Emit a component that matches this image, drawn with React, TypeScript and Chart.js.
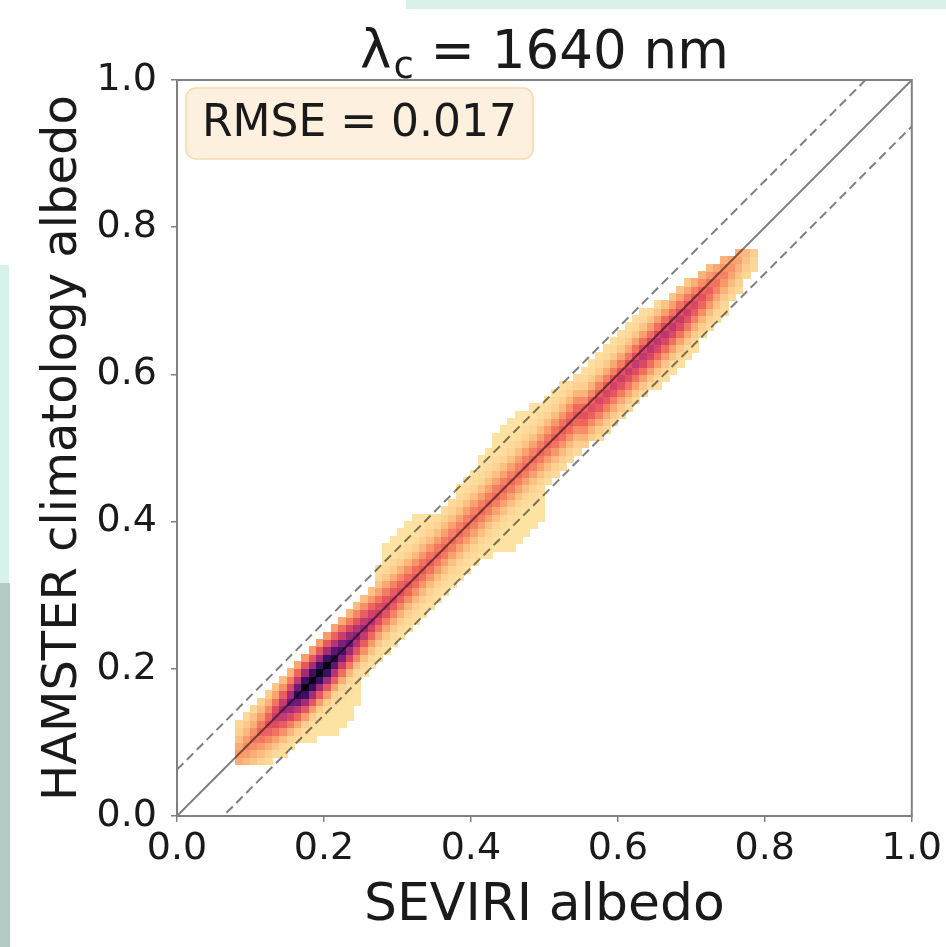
import React, { useEffect, useRef } from "react";
import { Chart, registerables } from "chart.js";

Chart.register(...registerables);

// ---------- text ----------
const TITLE_SYMBOL = "λ";
const TITLE_SUB = "c";
const TITLE_REST = " = 1640 nm";
const X_LABEL = "SEVIRI albedo";
const Y_LABEL = "HAMSTER climatology albedo";
const RMSE_TEXT = "RMSE = 0.017";

// ---------- axes ----------
const AXIS_MIN = 0;
const AXIS_MAX = 1;
const TICK_STEP = 0.2;

// ---------- reference lines ----------
const ONE_TO_ONE = [
  { x: 0, y: 0 },
  { x: 1, y: 1 },
];
const BAND_OFFSET = 0.063;

// ---------- 2D histogram (columns of 0.01 in SEVIRI albedo, starting at 0.08) ----------
const BIN_START = 0.08;
const BIN_WIDTH = 0.01;

// lower edge of occupied cells (HAMSTER albedo) per column
const colLow = [
  0.07, 0.07, 0.07, 0.07, 0.07, 0.08, 0.08, 0.09, 0.1, 0.1,
  0.1, 0.11, 0.11, 0.11, 0.12, 0.13, 0.15, 0.19, 0.2, 0.21,
  0.22, 0.23, 0.245, 0.255, 0.265, 0.275, 0.285, 0.295, 0.305, 0.315,
  0.325, 0.335, 0.345, 0.35, 0.355, 0.36, 0.36, 0.365, 0.37, 0.38,
  0.39, 0.4, 0.45, 0.465, 0.475, 0.485, 0.49, 0.5, 0.51, 0.515,
  0.525, 0.535, 0.545, 0.555, 0.565, 0.57, 0.58, 0.585, 0.595, 0.605,
  0.615, 0.625, 0.635, 0.65, 0.66, 0.675, 0.685, 0.7, 0.715, 0.73,
  0.745,
];

// upper edge of occupied cells per column
const colHigh = [
  0.125, 0.14, 0.15, 0.16, 0.17, 0.18, 0.19, 0.2, 0.21, 0.22,
  0.23, 0.24, 0.25, 0.26, 0.27, 0.28, 0.29, 0.3, 0.31, 0.335,
  0.365, 0.38, 0.39, 0.4, 0.405, 0.41, 0.41, 0.415, 0.42, 0.43,
  0.445, 0.455, 0.47, 0.49, 0.5, 0.515, 0.53, 0.54, 0.545, 0.55,
  0.555, 0.565, 0.575, 0.58, 0.585, 0.59, 0.6, 0.61, 0.62, 0.63,
  0.64, 0.65, 0.66, 0.67, 0.675, 0.685, 0.69, 0.7, 0.705, 0.71,
  0.72, 0.725, 0.73, 0.735, 0.745, 0.75, 0.755, 0.76, 0.765, 0.765,
  0.765,
];

// density level on the ridge of each column (0 = fewest counts, 1 = most)
const colPeak = [
  0.4, 0.44, 0.48, 0.54, 0.6, 0.67, 0.75, 0.83, 0.92, 1.0,
  1.0, 1.0, 1.0, 0.95, 0.89, 0.84, 0.79, 0.75, 0.71, 0.67,
  0.64, 0.62, 0.6, 0.58, 0.57, 0.56, 0.55, 0.54, 0.53, 0.52,
  0.52, 0.52, 0.52, 0.52, 0.52, 0.52, 0.52, 0.52, 0.52, 0.52,
  0.52, 0.53, 0.54, 0.55, 0.56, 0.57, 0.58, 0.59, 0.6, 0.62,
  0.63, 0.64, 0.65, 0.66, 0.67, 0.68, 0.69, 0.69, 0.69, 0.68,
  0.67, 0.65, 0.62, 0.59, 0.55, 0.5, 0.46, 0.42, 0.38, 0.32,
  0.26,
];

// ridge position relative to the 1:1 line per column
const colShift = [
  0, 0, 0, 0, 0, 0, 0, 0, 0, 0,
  0, 0, 0, 0, 0, 0, 0, 0, 0, 0,
  0, 0, 0, 0, 0, 0, 0, 0, 0, 0,
  0, 0, 0, 0, 0, 0, 0, 0, 0, 0,
  0, 0, -0.004, -0.004, -0.004, -0.004, -0.004, -0.008, -0.008, -0.008,
  -0.008, -0.008, -0.008, -0.008, -0.008, -0.008, -0.008, -0.008, -0.008, -0.008,
  -0.008, -0.008, -0.008, -0.008, -0.008, -0.008, -0.008, -0.008, -0.008, -0.008,
  -0.008,
];

// relative density vs distance from ridge (in cells)
const ridgeFalloff = [1, 0.9, 0.74, 0.57, 0.4, 0.24, 0.11, 0.03, 0];

// colour map (magma, reversed)
const CMAP_POS = [0, 0.2, 0.32, 0.42, 0.52, 0.62, 0.72, 0.82, 0.9, 1.0];
const CMAP_RGB = [
  [253, 227, 163],
  [253, 214, 150],
  [252, 186, 126],
  [249, 148, 104],
  [240, 105, 92],
  [218, 70, 100],
  [175, 48, 120],
  [115, 28, 122],
  [62, 16, 98],
  [10, 6, 26],
];

const FONT = '"DejaVu Sans", "Liberation Sans", sans-serif';

function cmap(level: number): string {
  const v = Math.max(0, Math.min(1, level));
  for (let i = 1; i < CMAP_POS.length; i++) {
    if (v <= CMAP_POS[i]) {
      const t = (v - CMAP_POS[i - 1]) / (CMAP_POS[i] - CMAP_POS[i - 1]);
      const a = CMAP_RGB[i - 1];
      const b = CMAP_RGB[i];
      const c = a.map((av, k) => Math.round(av + (b[k] - av) * t));
      return `rgb(${c[0]},${c[1]},${c[2]})`;
    }
  }
  const c = CMAP_RGB[CMAP_RGB.length - 1];
  return `rgb(${c[0]},${c[1]},${c[2]})`;
}

const heatmapPlugin = {
  id: "heatmap2d",
  beforeDatasetsDraw(chart: any) {
    const { ctx, chartArea, scales } = chart;
    const xs = scales.x;
    const ys = scales.y;
    ctx.save();
    ctx.beginPath();
    ctx.rect(chartArea.left, chartArea.top, chartArea.right - chartArea.left, chartArea.bottom - chartArea.top);
    ctx.clip();
    const nRows = Math.round((AXIS_MAX - AXIS_MIN) / BIN_WIDTH);
    for (let i = 0; i < colLow.length; i++) {
      const x0 = BIN_START + i * BIN_WIDTH;
      const x1 = x0 + BIN_WIDTH;
      const xc = x0 + BIN_WIDTH / 2;
      const px0 = Math.floor(xs.getPixelForValue(x0));
      const px1 = Math.ceil(xs.getPixelForValue(x1));
      const ridge = xc + colShift[i];
      for (let k = 0; k < nRows; k++) {
        const y0 = AXIS_MIN + k * BIN_WIDTH;
        const yc = y0 + BIN_WIDTH / 2;
        if (yc < colLow[i] || yc > colHigh[i]) continue;
        const d = Math.round(Math.abs(yc - ridge) / BIN_WIDTH);
        const f = ridgeFalloff[Math.min(d, ridgeFalloff.length - 1)];
        const level = colPeak[i] * f;
        const py0 = Math.ceil(ys.getPixelForValue(y0));
        const py1 = Math.floor(ys.getPixelForValue(y0 + BIN_WIDTH));
        ctx.fillStyle = cmap(level);
        ctx.fillRect(px0, py1, px1 - px0, py0 - py1);
      }
    }
    ctx.restore();
  },
  afterDatasetsDraw(chart: any) {
    const { ctx, chartArea } = chart;
    // frame
    ctx.save();
    ctx.strokeStyle = "#808080";
    ctx.lineWidth = 2;
    ctx.strokeRect(chartArea.left, chartArea.top, chartArea.right - chartArea.left, chartArea.bottom - chartArea.top);
    ctx.restore();

    // RMSE box
    ctx.save();
    ctx.font = `44px ${FONT}`;
    const tw = ctx.measureText(RMSE_TEXT).width;
    const bx = chartArea.left + 9;
    const by = chartArea.top + 8;
    const bw = tw + 32;
    const bh = 71;
    ctx.beginPath();
    ctx.roundRect(bx, by, bw, bh, 10);
    ctx.fillStyle = "#fdf0de";
    ctx.fill();
    ctx.strokeStyle = "#f6d9ab";
    ctx.lineWidth = 1.5;
    ctx.stroke();
    ctx.fillStyle = "#1a1a1a";
    ctx.textBaseline = "alphabetic";
    ctx.textAlign = "left";
    ctx.fillText(RMSE_TEXT, bx + 16, by + 48);
    ctx.restore();
  },
  afterDraw(chart: any) {
    const { ctx, chartArea } = chart;
    ctx.save();
    const mainFont = `53px ${FONT}`;
    const subFont = `37px ${FONT}`;
    ctx.font = mainFont;
    const wSym = ctx.measureText(TITLE_SYMBOL).width;
    const wRest = ctx.measureText(TITLE_REST).width;
    ctx.font = subFont;
    const wSub = ctx.measureText(TITLE_SUB).width;
    const total = wSym + 2 + wSub + wRest;
    const cx = (chartArea.left + chartArea.right) / 2;
    let x = cx - total / 2;
    const baseline = chartArea.top - 12;
    ctx.fillStyle = "#1a1a1a";
    ctx.textAlign = "left";
    ctx.textBaseline = "alphabetic";
    ctx.font = mainFont;
    ctx.fillText(TITLE_SYMBOL, x, baseline);
    x += wSym + 2;
    ctx.font = subFont;
    ctx.fillText(TITLE_SUB, x, baseline + 10);
    x += wSub;
    ctx.font = mainFont;
    ctx.fillText(TITLE_REST, x, baseline);
    ctx.restore();
  },
};

export default function App() {
  const canvasRef = useRef<HTMLCanvasElement | null>(null);

  useEffect(() => {
    document.body.style.margin = "0";
    const canvas = canvasRef.current;
    if (!canvas) return;
    const lineGray = "rgba(0,0,0,0.5)";
    const chart = new Chart(canvas, {
      type: "scatter",
      data: {
        datasets: [
          {
            label: "1:1",
            data: ONE_TO_ONE,
            showLine: true,
            borderColor: lineGray,
            borderWidth: 2,
            pointRadius: 0,
            clip: 0,
          },
          {
            label: "upper",
            data: ONE_TO_ONE.map((p) => ({ x: p.x, y: p.y + BAND_OFFSET })),
            showLine: true,
            borderColor: lineGray,
            borderWidth: 2,
            borderDash: [9, 5],
            pointRadius: 0,
            clip: 0,
          },
          {
            label: "lower",
            data: ONE_TO_ONE.map((p) => ({ x: p.x, y: p.y - BAND_OFFSET })),
            showLine: true,
            borderColor: lineGray,
            borderWidth: 2,
            borderDash: [9, 5],
            pointRadius: 0,
            clip: 0,
          },
        ],
      },
      options: {
        responsive: false,
        animation: false,
        events: [],
        layout: { padding: { left: 0, top: 80, right: 34, bottom: 0 } },
        plugins: {
          legend: { display: false },
          tooltip: { enabled: false },
          title: { display: false },
        },
        scales: {
          x: {
            type: "linear",
            min: AXIS_MIN,
            max: AXIS_MAX,
            afterFit: (s: any) => {
              s.height = 131;
            },
            ticks: {
              stepSize: TICK_STEP,
              padding: 4,
              color: "#1a1a1a",
              font: { family: FONT, size: 38 },
              maxRotation: 0,
              callback: (v: any) => Number(v).toFixed(1),
            },
            grid: {
              drawOnChartArea: false,
              drawTicks: true,
              tickLength: 6,
              color: "#808080",
              lineWidth: 1.5,
            },
            border: { display: true, color: "#808080", width: 2 },
            title: {
              display: true,
              text: X_LABEL,
              color: "#1a1a1a",
              font: { family: FONT, size: 52 },
              padding: { top: 0, bottom: 9 },
            },
          },
          y: {
            type: "linear",
            min: AXIS_MIN,
            max: AXIS_MAX,
            afterFit: (s: any) => {
              s.width = 177;
            },
            ticks: {
              stepSize: TICK_STEP,
              padding: 14,
              color: "#1a1a1a",
              font: { family: FONT, size: 38 },
              callback: (v: any) => Number(v).toFixed(1),
            },
            grid: {
              drawOnChartArea: false,
              drawTicks: true,
              tickLength: 6,
              color: "#808080",
              lineWidth: 1.5,
            },
            border: { display: true, color: "#808080", width: 2 },
            title: {
              display: true,
              text: Y_LABEL,
              color: "#1a1a1a",
              font: { family: FONT, size: 48 },
              padding: { top: 35, bottom: 0 },
            },
          },
        },
      },
      plugins: [heatmapPlugin],
    } as any);
    return () => chart.destroy();
  }, []);

  return (
    <div style={{ position: "relative", width: 946, height: 947, background: "#ffffff", overflow: "hidden" }}>
      <div style={{ position: "absolute", left: 406, top: 0, width: 540, height: 9, background: "#d9f1eb" }} />
      <div style={{ position: "absolute", left: 0, top: 265, width: 9, height: 318, background: "#d9f1eb" }} />
      <div style={{ position: "absolute", left: 0, top: 583, width: 10, height: 364, background: "#b4cbc5" }} />
      <canvas ref={canvasRef} width={946} height={947} style={{ position: "absolute", left: 0, top: 0, display: "block" }} />
    </div>
  );
}
